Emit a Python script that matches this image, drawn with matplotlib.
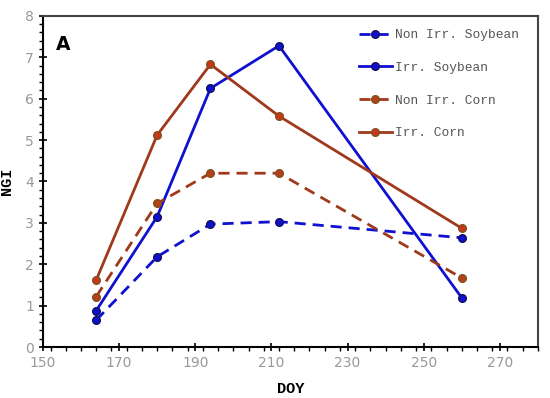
import matplotlib.pyplot as plt
from matplotlib.ticker import MultipleLocator

doy = [164, 180, 194, 212, 260]
non_irr_soy = [0.65, 2.18, 2.97, 3.03, 2.64]
irr_soy = [0.88, 3.15, 6.25, 7.28, 1.19]
non_irr_corn = [1.22, 3.47, 4.20, 4.20, 1.67]
irr_corn = [1.62, 5.12, 6.83, 5.58, 2.87]
xticks = [150, 170, 190, 210, 230, 250, 270]

blue = '#1010d0'
brown = '#a0381c'

fig = plt.figure(figsize=(5.5, 3.98), dpi=100)
ax = fig.add_axes([0.078, 0.128, 0.9, 0.832])

mk = dict(marker='o', markersize=5.5, linewidth=2)
ax.plot(doy, non_irr_soy, '--', color=blue, mfc=blue, mec='#101060',
        dashes=(4, 2.5), label='Non Irr. Soybean', **mk)
ax.plot(doy, irr_soy, '-', color=blue, mfc=blue, mec='#101060',
        label='Irr. Soybean', **mk)
ax.plot(doy, non_irr_corn, '--', color=brown, mfc='#b84018', mec='#805020',
        dashes=(4, 2.5), label='Non Irr. Corn', **mk)
ax.plot(doy, irr_corn, '-', color=brown, mfc='#c83818', mec='#805020',
        label='Irr. Corn', **mk)

ax.set_xlim(150, 280)
ax.set_ylim(0, 8)
ax.set_xticks(xticks)
ax.xaxis.set_minor_locator(MultipleLocator(4))
ax.yaxis.set_major_locator(MultipleLocator(1))
ax.yaxis.set_minor_locator(MultipleLocator(0.2))
ax.tick_params(which='major', direction='inout', length=6, width=1.2,
               labelsize=10, labelcolor='#999999', color='black')
ax.tick_params(which='minor', direction='out', length=3, width=1, color='black')

for s in ['left', 'bottom']:
    ax.spines[s].set_linewidth(1.5)
    ax.spines[s].set_color('black')
for s in ['top', 'right']:
    ax.spines[s].set_linewidth(1.5)
    ax.spines[s].set_color('#444444')

ax.set_xlabel('DOY', family='Liberation Mono', fontweight='bold', fontsize=11)
ax.set_ylabel('NGI', family='Liberation Mono', fontweight='bold', fontsize=11, labelpad=8)
ax.xaxis.set_label_coords(0.5, -0.105)

ax.text(153.5, 7.3, 'A', fontsize=13.5, fontweight='bold', family='DejaVu Sans', va='center')

leg = ax.legend(loc='upper right', frameon=False, handlelength=2.6,
                prop={'family': 'Liberation Mono', 'size': 9.3},
                labelspacing=1.6, handletextpad=0.2, borderaxespad=0.5,
                bbox_to_anchor=(0.985, 0.995))
for t in leg.get_texts():
    t.set_color('#555555')

fig.savefig('out.png', dpi=100)
